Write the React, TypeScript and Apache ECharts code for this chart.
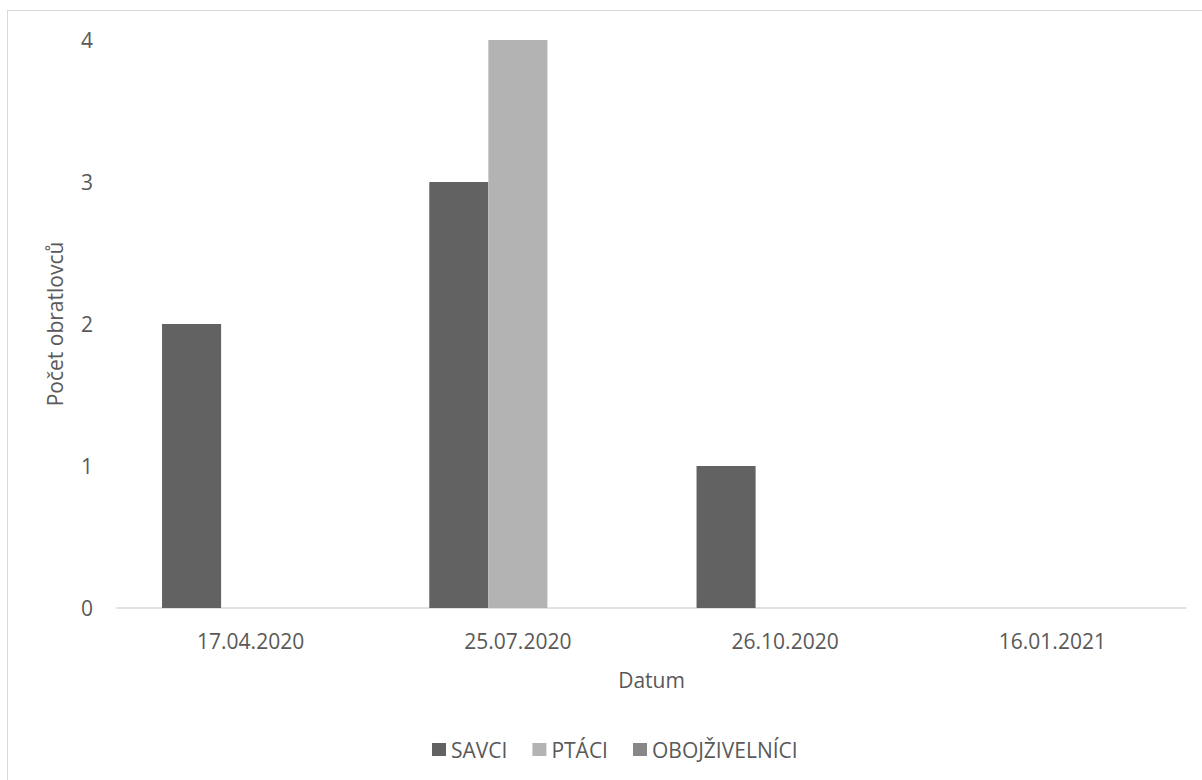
import React, { useEffect, useRef } from "react";
import * as echarts from "echarts";

const dates = ["17.04.2020", "25.07.2020", "26.10.2020", "16.01.2021"];
const savci = [2, 3, 1, 0];
const ptaci = [0, 4, 0, 0];
const obojzivelnici = [0, 0, 0, 0];
const seriesNames = ["SAVCI", "PTÁCI", "OBOJŽIVELNÍCI"];
const seriesColors = ["#626262", "#b3b3b3", "#878787"];

const FONT = "'Open Sans', sans-serif";
const TEXT = "#595959";

export default function App() {
  const ref = useRef<HTMLDivElement>(null);

  useEffect(() => {
    if (!ref.current) return;
    const chart = echarts.init(ref.current, undefined, { renderer: "svg" });
    const values = [savci, ptaci, obojzivelnici];
    chart.setOption({
      animation: false,
      textStyle: { fontFamily: FONT },
      grid: { left: 117, right: 16, top: 40, bottom: 172 },
      legend: {
        left: 427,
        top: 734,
        icon: "rect",
        itemWidth: 14,
        itemHeight: 13,
        itemGap: 25,
        textStyle: { color: TEXT, fontSize: 21, fontFamily: FONT },
        data: seriesNames,
      },
      xAxis: {
        type: "category",
        data: dates,
        name: "Datum",
        nameLocation: "middle",
        nameGap: 61,
        nameTextStyle: { color: TEXT, fontSize: 21, fontFamily: FONT },
        axisLine: { lineStyle: { color: "#d9d9d9", width: 1.5 } },
        axisTick: { show: false },
        axisLabel: { color: TEXT, fontSize: 21, margin: 22, fontFamily: FONT },
      },
      yAxis: {
        type: "value",
        min: 0,
        max: 4,
        interval: 1,
        name: "Počet obratlovců",
        nameLocation: "middle",
        nameGap: 52,
        nameTextStyle: { color: TEXT, fontSize: 21, fontFamily: FONT },
        axisLine: { show: false },
        axisTick: { show: false },
        splitLine: { show: false },
        axisLabel: { color: TEXT, fontSize: 21, margin: 24, fontFamily: FONT },
      },
      series: seriesNames.map((name, i) => ({
        name,
        type: "bar",
        data: values[i],
        barGap: "0%",
        barCategoryGap: "33.7%",
        itemStyle: { color: seriesColors[i] },
      })),
    });
    return () => chart.dispose();
  }, []);

  return (
    <div style={{ position: "fixed", left: 0, top: 0, width: 1202, height: 780, background: "#fff" }}>
      <div
        style={{
          position: "absolute",
          left: 7,
          top: 10,
          right: 0,
          bottom: 0,
          borderLeft: "1px solid #d9d9d9",
          borderTop: "1px solid #d9d9d9",
        }}
      />
      <div ref={ref} style={{ position: "absolute", left: 0, top: 0, width: 1202, height: 780 }} />
    </div>
  );
}
